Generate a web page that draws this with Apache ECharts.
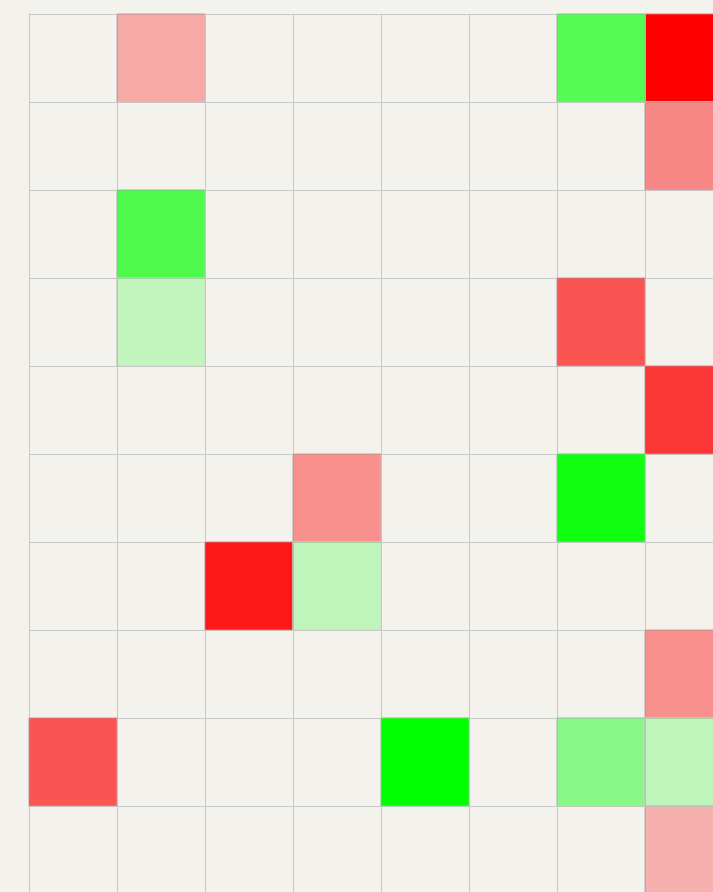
<!DOCTYPE html>
<html>
<head>
<meta charset="utf-8">
<script src="https://cdn.jsdelivr.net/npm/echarts@6/dist/echarts.min.js"></script>
<style>
  html, body { margin: 0; padding: 0; background: #f3f2ed; }
  #main { width: 713px; height: 892px; }
</style>
</head>
<body>
<div id="main"></div>
<script>
var cols = ['c0', 'c1', 'c2', 'c3', 'c4', 'c5', 'c6', 'c7'];
var rows = ['r0', 'r1', 'r2', 'r3', 'r4', 'r5', 'r6', 'r7', 'r8', 'r9'];

// [col, row, strength]
var redCells = [
  [1, 0, 0.30], [7, 0, 1.00],
  [7, 1, 0.44],
  [6, 3, 0.65],
  [7, 4, 0.77],
  [3, 5, 0.40],
  [2, 6, 0.90],
  [7, 7, 0.40],
  [0, 8, 0.65],
  [7, 9, 0.27]
];
var greenCells = [
  [6, 0, 0.65],
  [1, 2, 0.68],
  [1, 3, 0.20],
  [6, 5, 0.93],
  [3, 6, 0.21],
  [4, 8, 1.00], [6, 8, 0.43], [7, 8, 0.21]
];

var chart = echarts.init(document.getElementById('main'));

var lineColor = '#c8c8c8';

var option = {
  backgroundColor: '#f3f2ed',
  animation: false,
  // grid runs past the right and bottom edges of the canvas
  grid: { left: 29, top: 14, width: 704, height: 880, outerBoundsMode: 'none' },
  xAxis: {
    type: 'category',
    data: cols,
    position: 'top',
    axisLine: { show: true, lineStyle: { color: lineColor } },
    axisTick: { show: false },
    axisLabel: { show: false },
    splitLine: { show: true, lineStyle: { color: lineColor, width: 1 } }
  },
  yAxis: {
    type: 'category',
    data: rows,
    inverse: true,
    axisLine: { show: true, lineStyle: { color: lineColor } },
    axisTick: { show: false },
    axisLabel: { show: false },
    splitLine: { show: true, lineStyle: { color: lineColor, width: 1 } }
  },
  visualMap: [
    {
      show: false, type: 'continuous', seriesIndex: 0, dimension: 2,
      min: 0, max: 1,
      inRange: { color: ['rgba(255,0,0,0)', 'rgba(255,0,0,1)'] }
    },
    {
      show: false, type: 'continuous', seriesIndex: 1, dimension: 2,
      min: 0, max: 1,
      inRange: { color: ['rgba(0,255,0,0)', 'rgba(0,255,0,1)'] }
    }
  ],
  series: [
    {
      type: 'heatmap',
      data: redCells,
      itemStyle: { borderColor: lineColor, borderWidth: 1 }
    },
    {
      type: 'heatmap',
      data: greenCells,
      itemStyle: { borderColor: lineColor, borderWidth: 1 }
    }
  ]
};

chart.setOption(option);
</script>
</body>
</html>
